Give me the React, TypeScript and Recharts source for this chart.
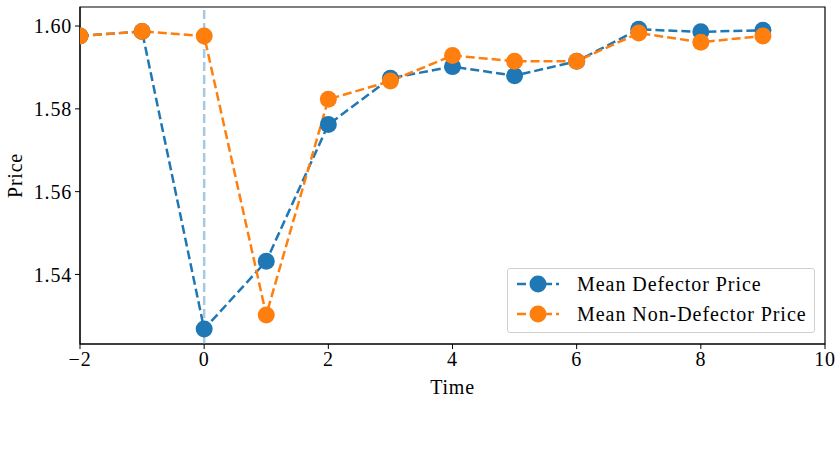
import React from 'react';
import { LineChart, Line, XAxis, YAxis, ReferenceLine, ReferenceArea } from 'recharts';

// time steps around the defection event (t = 0)
const times = [-2, -1, 0, 1, 2, 3, 4, 5, 6, 7, 8, 9];
const defectorPrices = [1.5976, 1.5987, 1.5268, 1.5432, 1.5762, 1.5874, 1.5902, 1.588, 1.5915, 1.5992, 1.5986, 1.599];
const nonDefectorPrices = [1.5976, 1.5987, 1.5976, 1.5302, 1.5823, 1.5867, 1.5929, 1.5915, 1.5915, 1.5983, 1.5961, 1.5976];

const xTicks = [-2, 0, 2, 4, 6, 8, 10];
const yTicks = [1.54, 1.56, 1.58, 1.6];
const xDomain = [-2, 10];
const yDomain = [1.5232, 1.6046];

const BLUE = '#1f77b4';
const ORANGE = '#ff7f0e';
const FONT = '"Liberation Serif", "DejaVu Serif", serif';

const data = times.map((t, i) => ({
  time: t,
  defector: defectorPrices[i],
  nonDefector: nonDefectorPrices[i],
}));

const fmtX = (v: number) => (v < 0 ? `\u2212${Math.abs(v)}` : `${v}`);

const LegendIcon = ({ color }: { color: string }) => (
  <svg width={42} height={18} style={{ display: 'block' }}>
    <line x1={0} y1={9} x2={42} y2={9} stroke={color} strokeWidth={2.5} strokeDasharray="9 4" />
    <circle cx={21} cy={9} r={8.5} fill={color} />
  </svg>
);

const legendItems = [
  { label: 'Mean Defector Price', color: BLUE },
  { label: 'Mean Non-Defector Price', color: ORANGE },
];

const ChartLegend = () => (
  <div
    style={{
      position: 'absolute',
      left: 507,
      top: 268,
      width: 308,
      height: 65,
      border: '1px solid #d0d0d0',
      borderRadius: 3,
      background: 'rgba(255,255,255,0.8)',
      boxSizing: 'border-box',
      padding: '0 0 0 9px',
      fontFamily: FONT,
      fontSize: 20,
      letterSpacing: 0.95,
      color: '#000',
    }}
  >
    {legendItems.map((it) => (
      <div key={it.label} style={{ display: 'flex', alignItems: 'center', height: 30 }}>
        <LegendIcon color={it.color} />
        <span style={{ marginLeft: 18, whiteSpace: 'nowrap' }}>{it.label}</span>
      </div>
    ))}
  </div>
);

const tickStyle = { fontFamily: FONT, fontSize: 20, fill: '#000', letterSpacing: 0.8 };

export default function App() {
  return (
    <div style={{ position: 'absolute', left: 0, top: 0, width: 840, height: 460, background: '#fff' }}>
      <LineChart width={840} height={460} data={data} margin={{ top: 7, right: 15, bottom: 66, left: 0 }}>
        <XAxis
          dataKey="time"
          type="number"
          domain={xDomain}
          ticks={xTicks}
          allowDataOverflow
          tickFormatter={fmtX}
          tick={tickStyle}
          tickSize={5}
          tickMargin={3}
          stroke="#000"
          height={50}
          label={{ value: 'Time', position: 'insideBottom', offset: 0, style: { ...tickStyle, textAnchor: 'middle' } }}
        />
        <YAxis
          type="number"
          domain={yDomain}
          ticks={yTicks}
          allowDataOverflow
          tickFormatter={(v: number) => v.toFixed(2)}
          tick={tickStyle}
          tickSize={5}
          tickMargin={3}
          stroke="#000"
          width={80}
          label={{ value: 'Price', angle: -90, position: 'insideLeft', offset: 15, style: { ...tickStyle, textAnchor: 'middle' } }}
        />
        <ReferenceArea x1={-2} x2={10} y1={yDomain[0]} y2={yDomain[1]} fill="none" stroke="#000" strokeWidth={1.2} ifOverflow="visible" />
        <ReferenceLine x={0} stroke="#a5c9e1" strokeWidth={2.5} strokeDasharray="9 4" />
        <Line
          dataKey="defector"
          stroke={BLUE}
          strokeWidth={2.5}
          strokeDasharray="9 4"
          dot={{ r: 8.5, fill: BLUE, stroke: 'none', strokeDasharray: '' }}
          isAnimationActive={false}
        />
        <Line
          dataKey="nonDefector"
          stroke={ORANGE}
          strokeWidth={2.5}
          strokeDasharray="9 4"
          dot={{ r: 8.5, fill: ORANGE, stroke: 'none', strokeDasharray: '' }}
          isAnimationActive={false}
        />
      </LineChart>
      <ChartLegend />
    </div>
  );
}
